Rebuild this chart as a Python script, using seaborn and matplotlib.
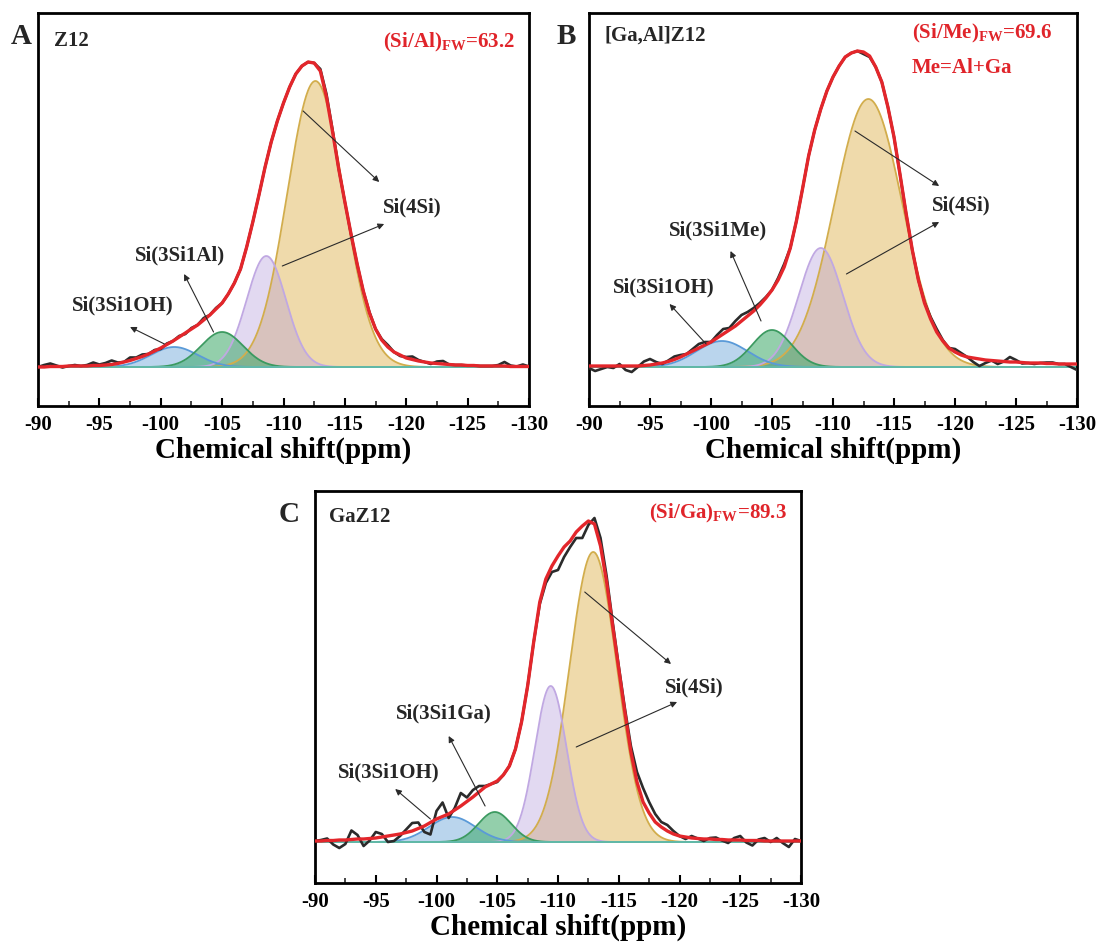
import numpy as np
import pandas as pd
import matplotlib
matplotlib.use("Agg")
import matplotlib.pyplot as plt
from matplotlib.ticker import MultipleLocator
import seaborn as sns

# ---------------- data ----------------
# sampling of the spectra: -90 ppm to -130 ppm in 0.5 ppm steps (81 points)
ppm_step = 0.5
ppm_start = -90.0
tick_values = [-90, -95, -100, -105, -110, -115, -120, -125, -130]
tick_labels = ["-90", "-95", "-100", "-105", "-110", "-115", "-120", "-125", "-130"]

# fitted envelope (red), intensity in a.u.
fit_A = [0, 0, 0.5, 0.5, 0.5, 1, 1, 1, 1, 1.5,
         1.5, 2, 2.5, 3.5, 5, 6.5, 8.5, 10.5, 13, 16,
         19, 22.5, 26, 30, 34, 38, 42, 47, 52, 58,
         64, 73, 84, 98, 120, 145, 172, 200, 225, 246,
         264, 280, 293, 301, 305, 304, 296, 270, 235, 198,
         165, 133, 103, 76, 54, 38, 27, 20, 15, 12,
         9, 7.5, 6, 5, 4, 3.5, 3, 2.5, 2, 2,
         1.5, 1.5, 1, 1, 1, 1, 1, 0.5, 0.5, 0.5,
         0.5]
fit_B = [1, 1, 1, 1, 1, 1, 1, 1, 1, 1.5,
         2, 3, 4, 5.5, 7.5, 10, 13, 16, 19, 22,
         25, 29, 33, 37, 41, 46, 51, 56, 62, 69,
         77, 87, 100, 119, 146, 178, 211, 237, 258, 276,
         290, 301, 310, 314, 316, 315, 311, 300, 285, 260,
         230, 192, 153, 117, 87, 64, 48, 35, 26, 19,
         15, 12, 10, 9, 8, 7, 6.5, 6, 5.5, 5,
         5, 4.5, 4, 4, 4, 3.5, 3.5, 3, 3, 3,
         3]
fit_C = [1, 1, 1.5, 1.5, 2, 2, 2.5, 3, 3, 3.5,
         4, 5, 6, 7, 8, 9.5, 11, 13.5, 16, 19.5,
         23, 25.5, 28, 32, 36, 40.5, 45, 50, 55, 58,
         61, 67, 76, 93, 120, 156, 200, 240, 263, 276,
         286, 295, 301, 310, 316, 321, 318, 296, 260, 216,
         173, 130, 90, 60, 40, 29, 20, 15, 11, 8,
         6, 5, 4, 3.5, 3, 3, 2.5, 2.5, 2, 2,
         2, 1.5, 1.5, 1.5, 1, 1, 1, 1, 1, 1,
         1]

resid_A = [0, 2, 3, 1, -1, 0, 1, 0, 1, 3,
           1, 2, 4, 1, 0, 3, 1, 2, 0, 1,
           -1, 1, 0, 1, -1, 1, 0, 2, 0, 1,
           0, 0, 0, 0, 0, 0, 0, 0, 0, 0,
           0, 0, 0, 0, 0, 0, 2, 3, 2, 0,
           0, 0, 0, 0, 1, 0, 1, 2, 0, -1,
           1, 3, 1, 0, -1, 2, 3, 0, 0, 0,
           0, 0, 0, 0, 0, 1, 4, 1, 0, 2,
           0]
resid_B = [-2, -5, -3, -1, -2, 2, -4, -6, -1, 4,
           6, 2, -1, 1, 3, 2, 0, 2, 4, 3,
           0, 3, 5, 2, 5, 6, 4, 3, 2, 1,
           0, 2, 3, 0, 0, 0, 0, 0, 0, 0,
           0, 0, 0, 0, 0, -2, -1, 0, 0, 0,
           0, 0, 0, 0, 0, 1, 2, 3, 1, 0,
           3, 2, 0, -4, -7, -3, 0, -3, 0, 5,
           2, -1, 0, -1, 0, 1, 1, 0, 0, -3,
           -6]
resid_C = [0, 1, 2, -4, -8, -4, 9, 4, -7, -2,
           6, 3, -6, -6, -2, 3, 8, 6, -6, -12,
           8, 14, -4, 2, 13, 4, 7, 6, 1, 0,
           -1, 0, 0, 0, 0, 0, 0, -2, -4, -6,
           -14, -10, -6, -6, -12, -4, 6, 8, 6, 4,
           3, 4, 6, 10, 14, 11, 8, 5, 6, 3,
           0, -2, 2, 0, -2, 1, 2, -1, -3, 2,
           4, -2, -5, 1, 3, -1, 3, -2, -6, 2,
           0]

# deconvoluted Gaussian components: Si(3Si1OH), Si(3Si1X), Si(4Si)-a, Si(4Si)-b
comp_names = ["Si(3Si1OH)", "Si(3Si1X)", "Si(4Si) a", "Si(4Si) b"]
centers_A = [-101.1, -105.0, -108.6, -112.6]
heights_A = [20, 35, 111, 286]
widths_A = [1.9, 1.7, 1.6, 2.3]
centers_B = [-100.9, -105.0, -109.0, -112.9]
heights_B = [26, 37, 119, 268]
widths_B = [2.1, 1.6, 1.8, 2.8]
centers_C = [-101.3, -104.8, -109.4, -112.9]
heights_C = [25, 30, 156, 290]
widths_C = [1.9, 1.35, 1.3, 1.95]

sample_names = ["Z12", "[Ga,Al]Z12", "GaZ12"]
ratio_texts = [r"(Si/Al)$_{\mathbf{FW}}$=63.2", r"(Si/Me)$_{\mathbf{FW}}$=69.6", r"(Si/Ga)$_{\mathbf{FW}}$=89.3"]
second_names = ["Si(3Si1Al)", "Si(3Si1Me)", "Si(3Si1Ga)"]

# ---------------- style ----------------
sns.set_theme(style="white")
plt.rcParams["font.family"] = ["Liberation Serif", "DejaVu Serif"]
plt.rcParams["axes.unicode_minus"] = False
plt.rcParams["mathtext.fontset"] = "custom"
plt.rcParams["mathtext.rm"] = "Liberation Serif:bold"
plt.rcParams["mathtext.bf"] = "Liberation Serif:bold"

W, H = 1099, 945
fig = plt.figure(figsize=(W / 100, H / 100), dpi=100)
fig.patch.set_facecolor("white")


def fx(px):
    return px / W


def fy(py):
    return 1 - py / H


def add_axes_px(l, t, r, b):
    return fig.add_axes([l / W, 1 - b / H, (r - l) / W, (b - t) / H])


def gauss(x, c, h, s):
    return h * np.exp(-0.5 * ((x - c) / s) ** 2)


face_cols = ["#5b9bd5", "#3aa866", "#b49ddc", "#e0b658"]
face_alpha = [0.42, 0.55, 0.38, 0.5]
edge_cols = ["#5a9ad8", "#3b9a60", "#c0a8e2", "#d2ad4c"]
draw_order = [3, 2, 0, 1]

n = len(fit_A)
ppm = ppm_start - ppm_step * np.arange(n)
xg = np.linspace(-90, -130, 801)

panels = [
    dict(box=(38, 14, 529, 407), ylim=(-39, 354), fit=fit_A, resid=resid_A,
         c=centers_A, h=heights_A, w=widths_A, letter="A", letter_xy=(21, 37),
         name_xy=(54, 41), ratio_xy=(515, 42), name2=second_names[0],
         lab4=(-120.5, 161), ar4a=((-111.6, 256), (-117.8, 185)), ar4b=((-109.9, 101), (-118.2, 143)),
         lab2=(-101.6, 113), ar2=((-104.3, 35), (-101.9, 93)),
         lab1=(-96.9, 63), ar1=((-100.3, 23), (-97.5, 40))),
    dict(box=(589, 14, 1077, 407), ylim=(-39, 354), fit=fit_B, resid=resid_B,
         c=centers_B, h=heights_B, w=widths_B, letter="B", letter_xy=(566, 37),
         name_xy=(605, 36), ratio_xy=(912, 33), name2=second_names[1],
         lab4=(-120.5, 163), ar4a=((-111.8, 236), (-118.7, 181)), ar4b=((-111.1, 93), (-118.7, 145)),
         lab2=(-100.6, 138), ar2=((-104.1, 46), (-101.6, 116)),
         lab1=(-96.1, 81), ar1=((-99.6, 23), (-96.6, 63))),
    dict(box=(315, 492, 801, 884), ylim=(-41, 351), fit=fit_C, resid=resid_C,
         c=centers_C, h=heights_C, w=widths_C, letter="C", letter_xy=(289, 515),
         name_xy=(329, 517), ratio_xy=(787, 513), name2=second_names[2],
         lab4=(-121.2, 156), ar4a=((-112.2, 250), (-119.3, 178)), ar4b=((-111.5, 95), (-119.8, 140)),
         lab2=(-100.6, 130), ar2=((-104.0, 36), (-101.0, 106)),
         lab1=(-96.1, 71), ar1=((-99.5, 23), (-96.6, 53))),
]

arrow_kw = dict(arrowstyle="-|>", color="#2a2a2a", lw=0.8, mutation_scale=9,
                shrinkA=0, shrinkB=0)

for k, p in enumerate(panels):
    ax = add_axes_px(*p["box"])
    ax.set_facecolor("white")

    # components
    for j in draw_order:
        y = gauss(xg, p["c"][j], p["h"][j], p["w"][j])
        ax.fill_between(xg, 0, y, color=face_cols[j], alpha=face_alpha[j], lw=0, zorder=1)
        ax.plot(xg, y, color=edge_cols[j], lw=1.3, zorder=2)
    ax.axhline(0, color="#62b9a9", lw=1.4, zorder=2)

    exp_y = np.array(p["fit"]) + np.array(p["resid"])
    df = pd.DataFrame({"ppm": ppm, "exp": exp_y, "fit": p["fit"]})
    sns.lineplot(data=df, x="ppm", y="exp", ax=ax, color="#2b2b2b", lw=1.9,
                 errorbar=None, zorder=3)
    sns.lineplot(data=df, x="ppm", y="fit", ax=ax, color="#e3262b", lw=2.4,
                 errorbar=None, zorder=4)

    ax.set_xlim(-90, -130)
    ax.set_ylim(*p["ylim"])
    ax.set_yticks([])
    ax.set_ylabel("")
    ax.set_xticks(tick_values)
    ax.set_xticklabels(tick_labels, fontweight="bold", fontsize=15)
    ax.xaxis.set_minor_locator(MultipleLocator(2.5))
    ax.tick_params(axis="x", which="major", direction="in", length=6, width=1.5,
                   pad=6, bottom=True, top=False, colors="black")
    ax.tick_params(axis="x", which="minor", direction="in", length=3.5, width=1.2,
                   bottom=True, top=False)
    for s in ax.spines.values():
        s.set_linewidth(2)
        s.set_color("black")
    ax.set_xlabel("Chemical shift(ppm)", fontsize=21, fontweight="bold", labelpad=1,
                  color="black")

    # annotations
    ax.text(*p["lab4"], "Si(4Si)", fontsize=15, fontweight="bold", ha="center",
            va="center", zorder=6)
    for a in (p["ar4a"], p["ar4b"]):
        ax.annotate("", xy=a[1], xytext=a[0], arrowprops=arrow_kw, zorder=6)
    ax.text(*p["lab2"], p["name2"], fontsize=15, fontweight="bold", ha="center",
            va="center", zorder=6)
    ax.annotate("", xy=p["ar2"][1], xytext=p["ar2"][0], arrowprops=arrow_kw, zorder=6)
    ax.text(*p["lab1"], "Si(3Si1OH)", fontsize=15, fontweight="bold", ha="center",
            va="center", zorder=6)
    ax.annotate("", xy=p["ar1"][1], xytext=p["ar1"][0], arrowprops=arrow_kw, zorder=6)

    # panel texts
    fig.text(fx(p["letter_xy"][0]), fy(p["letter_xy"][1]), p["letter"], fontsize=21,
             fontweight="bold", ha="center", va="center")
    fig.text(fx(p["name_xy"][0]), fy(p["name_xy"][1]), sample_names[k], fontsize=15,
             fontweight="bold", ha="left", va="center")
    if k == 1:
        fig.text(fx(p["ratio_xy"][0]), fy(p["ratio_xy"][1]), ratio_texts[k], fontsize=15,
                 fontweight="bold", ha="left", va="center", color="#e0242a")
        fig.text(fx(912), fy(68), "Me=Al+Ga", fontsize=15, fontweight="bold",
                 ha="left", va="center", color="#e0242a")
    else:
        fig.text(fx(p["ratio_xy"][0]), fy(p["ratio_xy"][1]), ratio_texts[k], fontsize=15,
                 fontweight="bold", ha="right", va="center", color="#e0242a")

fig.savefig("out.png", dpi=100, facecolor="white")
